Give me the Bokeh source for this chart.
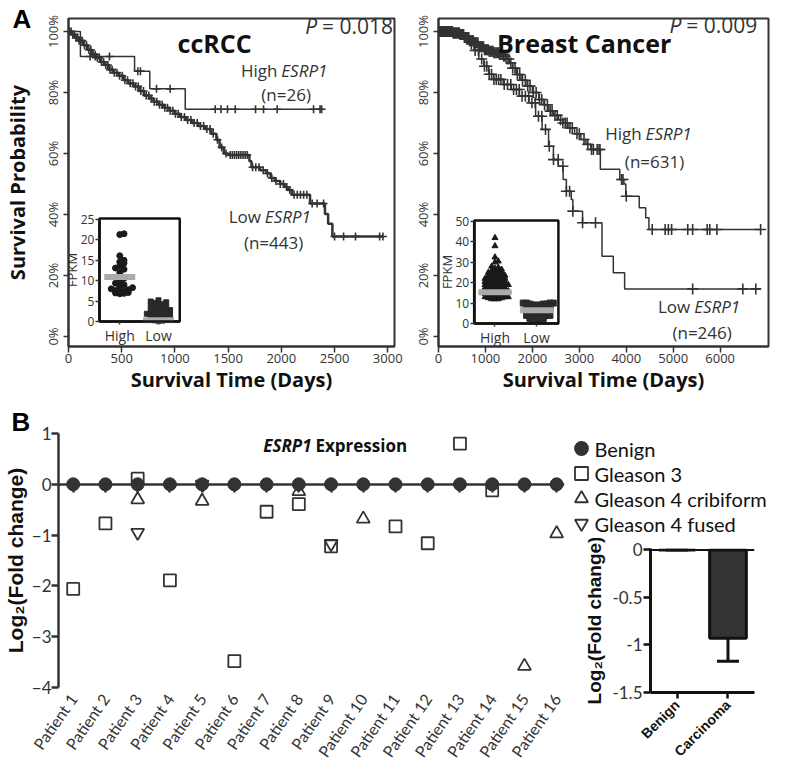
import numpy as np
from bokeh.plotting import figure
from bokeh.models import (Range1d, FactorRange, LinearAxis, FixedTicker, Label,
                          Whisker, TeeHead, ColumnDataSource, Span, NumeralTickFormatter)
from bokeh.core.properties import value
from bokeh.layouts import row, column
from bokeh.embed import file_html
from bokeh.resources import INLINE

# ======================= DATA =======================
# --- ccRCC Kaplan-Meier (days, survival fraction) ---
ccrcc_high_times = [0, 112, 621, 764, 1097]
ccrcc_high_surv = [1.0, 0.918, 0.870, 0.812, 0.745]
ccrcc_high_end = 2379
ccrcc_high_censor = [203, 251, 385, 651, 676, 827, 955, 1379, 1433, 1494, 1567, 1758, 1833,
                     1961, 2303, 2364, 2379]

ccrcc_low_times = [0, 30, 60, 100, 140, 180, 220, 260, 300, 340, 380, 420, 470, 520, 560, 610,
                   660, 710, 760, 800, 850, 900, 950, 1000, 1050, 1100, 1160, 1220, 1280, 1340,
                   1390, 1420, 1460, 1500, 1700, 1720, 1800, 1860, 1900, 1940, 1990, 2030, 2060,
                   2100, 2270, 2410, 2440, 2480]
ccrcc_low_surv = [1.0, 0.99, 0.98, 0.97, 0.955, 0.94, 0.925, 0.915, 0.90, 0.89, 0.875, 0.865,
                  0.855, 0.84, 0.83, 0.82, 0.805, 0.79, 0.78, 0.77, 0.76, 0.75, 0.74, 0.73, 0.72,
                  0.71, 0.70, 0.69, 0.68, 0.665, 0.645, 0.62, 0.60, 0.595, 0.575, 0.555, 0.545,
                  0.535, 0.52, 0.51, 0.50, 0.49, 0.48, 0.465, 0.436, 0.402, 0.37, 0.328]
ccrcc_low_end = 2955
ccrcc_low_censor = [10, 25, 40, 55, 70, 85, 100, 115, 130, 150, 170, 190, 210, 230, 250, 270, 290,
                    310, 330, 350, 370, 390, 410, 430, 455, 480, 505, 530, 555, 580, 605, 630, 655,
                    680, 705, 730, 755, 780, 805, 830, 855, 880, 905, 930, 955, 980, 1005, 1030,
                    1060, 1090, 1120, 1150, 1180, 1210, 1240, 1270, 1300, 1330, 1360, 1400, 1440,
                    1480, 1520, 1540, 1560, 1580, 1600, 1620, 1640, 1660, 1680, 1730, 1760, 1790,
                    1830, 1870, 1910, 1950, 1990, 2020, 2050, 2080, 2120, 2150, 2180, 2210, 2240,
                    2290, 2336, 2397, 2500, 2585, 2697, 2924, 2955]

# --- Breast cancer Kaplan-Meier ---
breast_high_times = [0, 300, 450, 550, 650, 760, 860, 966, 1070, 1172, 1280, 1379, 1450, 1517,
                     1580, 1655, 1760, 1862, 2000, 2138, 2245, 2345, 2450, 2552, 2650, 2759, 2900,
                     3034, 3140, 3241, 3448, 3862, 3950, 3990, 4276, 4414, 4483]
breast_high_surv = [1.0, 0.995, 0.99, 0.98, 0.97, 0.963, 0.95, 0.94, 0.935, 0.93, 0.925, 0.919,
                    0.91, 0.897, 0.88, 0.859, 0.84, 0.821, 0.80, 0.777, 0.76, 0.739, 0.725, 0.711,
                    0.70, 0.684, 0.665, 0.646, 0.63, 0.613, 0.548, 0.515, 0.50, 0.46, 0.422,
                    0.389, 0.351]
breast_high_end = 6862
breast_high_censor = [10, 25, 35, 50, 60, 75, 85, 100, 110, 125, 140, 150, 165, 180, 195, 205, 220,
                      235, 250, 265, 280, 295, 310, 325, 340, 355, 370, 385, 400, 415, 430, 445,
                      460, 475, 490, 505, 520, 535, 550, 565, 580, 600, 615, 630, 645, 660, 680,
                      700, 720, 740, 760, 780, 800, 820, 840, 860, 880, 900, 920, 940, 960, 980,
                      1000, 1020, 1040, 1060, 1080, 1100, 1120, 1140, 1160, 1180, 1200, 1225, 1250,
                      1275, 1300, 1330, 1360, 1390, 1420, 1460, 1500, 1540, 1580, 1630, 1680, 1730,
                      1790, 1850, 1900, 1950, 2020, 2080, 2150, 2200, 2260, 2320, 2380, 2420, 2480,
                      2530, 2600, 2650, 2700, 2740, 2800, 2850, 2950, 3000, 3100, 3180, 3260, 3300,
                      3380, 3420, 3440, 3900, 3930, 4000, 4552, 4828, 4897, 4966, 5310, 5414, 5724,
                      5779, 5931, 6862]

breast_low_times = [0, 400, 550, 650, 759, 860, 966, 1070, 1172, 1379, 1550, 1724, 1931, 2069,
                    2207, 2345, 2448, 2552, 2655, 2724, 2828, 2862, 3069, 3483, 3724, 3965]
breast_low_surv = [1.0, 0.99, 0.975, 0.96, 0.938, 0.91, 0.886, 0.86, 0.843, 0.826, 0.81, 0.788,
                   0.766, 0.722, 0.679, 0.624, 0.58, 0.558, 0.515, 0.476, 0.449, 0.411, 0.373,
                   0.263, 0.209, 0.156]
breast_low_end = 6862
breast_low_censor = [620, 700, 780, 850, 920, 980, 1030, 1080, 1130, 1180, 1230, 1280, 1330, 1400,
                     1470, 1540, 1600, 1660, 1720, 1780, 1850, 1920, 1990, 2060, 2130, 2200, 2280,
                     2360, 2450, 2550, 2650, 2724, 2793, 2862, 3069, 3345, 5414, 6483, 6759]

# --- insets: FPKM by group ---
inset_groups = ["High", "Low"]
ccrcc_fpkm_high = [21.3, 21.5, 16.1, 15.0, 14.6, 14.3, 13.6, 13.1, 12.8, 12.0, 11.2, 10.6, 10.0,
                   9.4, 9.0, 8.6, 8.3, 8.0, 7.8, 7.6, 7.4, 7.2, 7.1, 7.0, 6.9, 6.8]
ccrcc_fpkm_low = [5.2, 4.9, 4.7, 4.5, 4.2, 4.0, 3.8, 3.6, 3.4, 3.2, 3.0, 2.8, 2.7, 2.5, 2.3, 2.2,
                  2.0, 1.9, 1.7, 1.5, 1.4, 1.2, 1.1, 1.0, 0.8, 0.6, 0.5, 0.3, 0.2, 0.1]
ccrcc_fpkm_means = [10.9, 0.3]
breast_fpkm_high = [42, 38, 32.5, 30.5, 30, 28, 27.5, 27, 26.5, 26, 26, 25.5, 25, 25, 24.5, 24, 24,
                    23.5, 23.5, 23, 23, 22.5, 22.5, 22, 22, 21.5, 21.5, 21, 21, 21, 20.5, 20.5,
                    20, 20, 20, 19.5, 19.5, 19, 19, 19, 18.5, 18.5, 18, 18, 18, 17.5, 17.5, 17,
                    17, 17, 16.5, 16.5, 16, 16, 16, 15.5, 15.5, 15, 15, 15, 14.5, 14.5, 14, 14,
                    14, 13.5, 13.5, 13, 13, 13, 12.5, 12.5, 12, 12, 12]
breast_fpkm_low = [10, 10, 10, 10, 9.5, 9.5, 9.5, 9, 9, 9, 8.5, 8.5, 8.5, 8, 8, 8, 7.5, 7.5, 7, 7,
                   7, 6.5, 6.5, 6, 6, 6, 5.5, 5.5, 5, 5, 5, 4.5, 4.5, 4, 4, 4, 3.5, 3.5, 3, 3, 3,
                   2.5, 2.5, 2, 2, 2]
breast_fpkm_means = [15.3, 6.5]

# --- Panel B: ESRP1 log2 fold change per patient ---
patients = ["Patient %d" % i for i in range(1, 17)]
benign = [0.0] * 16
gleason3 = [-2.06, -0.77, 0.11, -1.89, np.nan, -3.48, -0.54, -0.39, -1.22, np.nan, -0.83, -1.16,
            0.80, -0.12, np.nan, np.nan]
gleason4_crib = [np.nan, np.nan, -0.30, np.nan, -0.33, np.nan, np.nan, -0.14, np.nan, -0.68,
                 np.nan, np.nan, np.nan, np.nan, -3.58, -0.97]
gleason4_fused = [np.nan, np.nan, -0.95, np.nan, 0.0, np.nan, np.nan, np.nan, -1.17, np.nan,
                  np.nan, np.nan, np.nan, np.nan, np.nan, np.nan]
series_names = ["Benign", "Gleason 3", "Gleason 4 cribiform", "Gleason 4 fused"]

# --- Panel B bar chart ---
bar_cats = ["Benign", "Carcinoma"]
bar_means = [0.0, -0.93]
bar_err = [0.0, 0.24]

# ======================= STYLE / HELPERS =======================
FONT = "Open Sans"
FONT_B = "Lato"
FONT_AR = "Liberation Sans"
DARK = "#333333"


def rng(v0, p0, v1, p1, f0, f1):
    k = (v1 - v0) / (p1 - p0)
    return Range1d(v0 + (f0 - p0) * k, v0 + (f1 - p0) * k)


def mapper(r, f0, f1):
    return lambda pg: r.start + (pg - f0) / (f1 - f0) * (r.end - r.start)


def surv_at(times, surv, t):
    i = np.searchsorted(np.asarray(times), np.asarray(t), side="right") - 1
    return list(np.asarray(surv)[i])


def swarm(vals, center, bin_w, step):
    vals = np.asarray(vals, float)
    order = np.argsort(vals)
    xs = np.zeros(len(vals))
    counts = {}
    for i in order:
        b = int(np.floor(vals[i] / bin_w))
        n = counts.get(b, 0)
        counts[b] = n + 1
        off = ((n + 1) // 2) * step * (1 if n % 2 else -1)
        xs[i] = center + off
    return list(xs)


def label(p, x, y, text, size, style="normal", align="left", font=FONT, color=DARK):
    p.add_layout(Label(x=x, y=y, text=text, text_font=font, text_font_size=f"{size}px",
                       text_font_style=style, text_align=align, text_baseline="middle",
                       text_color=color))


def letter(p, text, offset, standoff):
    # panel letter as the plot title, pulled left of / down beside the frame
    p.title.text = text
    p.title.align = "left"
    p.title.vertical_align = "bottom"
    p.title.offset = offset
    p.title.standoff = standoff
    p.title.text_font = FONT_AR
    p.title.text_font_style = "bold"
    p.title.text_font_size = "26px"
    p.title.text_color = "#000000"


def style_axis(ax, size=13, font=FONT):
    ax.axis_line_color = DARK
    ax.axis_line_width = 2
    ax.major_tick_line_color = DARK
    ax.major_tick_line_width = 1.5
    ax.minor_tick_line_color = None
    ax.major_label_text_font = font
    ax.major_label_text_font_size = f"{size}px"
    ax.major_label_text_color = DARK


# ======================= PANEL A =======================
H1 = 398
A_TOP, A_BOT = 18, 346
Y_A = rng(0, 336, 1, 31, A_BOT, A_TOP)


def km_fig(width, xr, mbl, mbr, xticks, ytitle):
    p = figure(width=width, height=H1, x_range=xr, y_range=Range1d(Y_A.start, Y_A.end),
               output_backend="svg", toolbar_location=None, frame_align=False,
               min_border_left=mbl, min_border_right=mbr, min_border_top=A_TOP,
               min_border_bottom=H1 - A_BOT)
    p.grid.visible = False
    p.outline_line_color = DARK
    p.outline_line_width = 2
    p.background_fill_color = "white"
    xa = p.xaxis[0]
    style_axis(xa)
    xa.ticker = FixedTicker(ticks=xticks)
    xa.major_tick_out = 6
    xa.major_tick_in = 0
    xa.major_label_standoff = 1
    xa.axis_label = "Survival Time (Days)"
    xa.axis_label_text_font = FONT
    xa.axis_label_text_font_style = "bold"
    xa.axis_label_text_font_size = "20px"
    xa.axis_label_text_color = "#111111"
    xa.axis_label_standoff = 0
    ya = p.yaxis[0]
    style_axis(ya)
    ya.ticker = FixedTicker(ticks=[0, 0.2, 0.4, 0.6, 0.8, 1.0])
    ya.formatter = NumeralTickFormatter(format="0%")
    ya.major_label_orientation = "vertical"
    ya.major_tick_out = 5
    ya.major_tick_in = 0
    ya.major_label_standoff = 2
    if ytitle:
        ya.axis_label = ytitle
        ya.axis_label_text_font = FONT
        ya.axis_label_text_font_style = "bold"
        ya.axis_label_text_font_size = "20px"
        ya.axis_label_text_color = "#111111"
        ya.axis_label_standoff = 10
    return p


def km_curve(p, times, surv, end, censor, lw, csize, color=DARK):
    p.step(x=list(times) + [end], y=list(surv) + [surv[-1]], mode="after",
           line_color=color, line_width=lw)
    p.scatter(x=censor, y=surv_at(times, surv, censor), marker="cross", size=csize,
              line_color=color, line_width=1.6)


def inset(p, frame, xmap, ymap, box, yticks, hi, lo, means, hi_marker, lo_marker,
          hi_size, lo_size, bins, step_hi, step_lo):
    fl, fr, ft, fb = frame
    p.extra_x_ranges = {"ix": rng(1, xmap[0], 2, xmap[1], fl, fr)}
    p.extra_y_ranges = {"iy": rng(0, ymap[0], yticks[-1], ymap[1], fb, ft)}
    fx = mapper(p.extra_x_ranges["ix"], fl, fr)
    fy = mapper(p.extra_y_ranges["iy"], fb, ft)
    bl, br, bt = fx(box[0]), fx(box[1]), fy(box[2])
    p.quad(left=[bl], right=[br], bottom=[0], top=[bt], x_range_name="ix", y_range_name="iy",
           fill_color="white", line_color="#111111", line_width=2.5)
    p.scatter(x=swarm(hi, 1, bins[0], step_hi), y=hi, marker=hi_marker, size=hi_size,
              fill_color="#1a1a1a", line_color="#1a1a1a", x_range_name="ix", y_range_name="iy")
    p.scatter(x=swarm(lo, 2, bins[1], step_lo), y=lo, marker=lo_marker, size=lo_size,
              fill_color="#2a2a2a", line_color="#2a2a2a", x_range_name="ix", y_range_name="iy")
    p.rect(x=[1, 2], y=means, width=0.8, height=6, height_units="screen",
           fill_color="#ababab", line_color=None, x_range_name="ix", y_range_name="iy")
    ay = LinearAxis(x_range_name="ix", y_range_name="iy", fixed_location=bl,
                    bounds=(0, bt), ticker=FixedTicker(ticks=yticks), axis_label="FPKM")
    style_axis(ay, size=12)
    ay.axis_line_color = "#111111"
    ay.axis_line_width = 2.5
    ay.major_tick_out = 4
    ay.major_tick_in = 0
    ay.major_label_standoff = 1
    ay.axis_label_text_font = FONT
    ay.axis_label_text_font_size = "13px"
    ay.axis_label_text_font_style = "normal"
    ay.axis_label_text_color = DARK
    ay.axis_label_standoff = -3
    p.add_layout(ay, "left")
    ax = LinearAxis(x_range_name="ix", y_range_name="iy", fixed_location=0,
                    bounds=(bl, br), ticker=FixedTicker(ticks=[1, 2]),
                    major_label_overrides={1: inset_groups[0], 2: inset_groups[1]})
    style_axis(ax, size=14)
    ax.axis_line_color = "#111111"
    ax.axis_line_width = 2.5
    ax.major_tick_out = 3
    ax.major_tick_in = 0
    ax.major_label_standoff = 1
    p.add_layout(ax, "below")


# ---- A1: ccRCC ----
fA1 = (65, 402, A_TOP, A_BOT)  # frame left, right, top, bottom (page px)
xA1 = rng(0, 65, 3000, 395, 65, 402)
pA1 = km_fig(410, xA1, 57, 16, [0, 500, 1000, 1500, 2000, 2500, 3000], "Survival Probability")
km_curve(pA1, ccrcc_low_times, ccrcc_low_surv, ccrcc_low_end, ccrcc_low_censor, 2.5, 8)
km_curve(pA1, ccrcc_high_times, ccrcc_high_surv, ccrcc_high_end, ccrcc_high_censor, 1.5, 8)
inset(pA1, fA1, (118, 158), (321, 219), (97, 180, 218), [0, 5, 10, 15, 20, 25],
      ccrcc_fpkm_high, ccrcc_fpkm_low, ccrcc_fpkm_means, "circle", "square", 6, 5,
      (1.2, 1.0), 0.11, 0.1)
gx = mapper(pA1.x_range, 65, 402)
gy = mapper(pA1.y_range, A_BOT, A_TOP)
label(pA1, gx(216), gy(42), "ccRCC", 25, "bold", "center", color="#111111")
label(pA1, gx(322), gy(25), "P", 21, "italic", "right")
label(pA1, gx(327), gy(25), "= 0.018", 21, "normal", "left")
label(pA1, gx(281), gy(70), "High", 17, "normal", "right")
label(pA1, gx(285), gy(70), "ESRP1", 17, "italic", "left")
label(pA1, gx(290), gy(94), "(n=26)", 17, "normal", "center")
label(pA1, gx(264), gy(216), "Low", 17, "normal", "right")
label(pA1, gx(268), gy(216), "ESRP1", 17, "italic", "left")
label(pA1, gx(277), gy(242), "(n=443)", 17, "normal", "center")
letter(pA1, "A", -56, -30)

# ---- A2: Breast cancer ----
fA2 = (443, 776, A_TOP, A_BOT)
xA2 = Range1d(0, 7030)
pA2 = km_fig(360, xA2, 25, 2, [0, 1000, 2000, 3000, 4000, 5000, 6000], None)
km_curve(pA2, breast_low_times, breast_low_surv, breast_low_end, breast_low_censor, 1.5, 11)
km_curve(pA2, breast_high_times, breast_high_surv, breast_high_end, breast_high_censor, 1.5, 11)
inset(pA2, fA2, (500, 542), (323, 221), (479, 564, 220), [0, 10, 20, 30, 40, 50],
      breast_fpkm_high, breast_fpkm_low, breast_fpkm_means, "triangle", "square", 6, 6,
      (1.5, 1.5), 0.08, 0.08)
hx = mapper(pA2.x_range, 443, 776)
hy = mapper(pA2.y_range, A_BOT, A_TOP)
label(pA2, hx(590), hy(42), "Breast Cancer", 25, "bold", "center", color="#111111")
label(pA2, hx(688), hy(24), "P", 21, "italic", "right")
label(pA2, hx(693), hy(24), "= 0.009", 21, "normal", "left")
label(pA2, hx(648), hy(133), "High", 17, "normal", "right")
label(pA2, hx(652), hy(133), "ESRP1", 17, "italic", "left")
label(pA2, hx(661), hy(161), "(n=631)", 17, "normal", "center")
label(pA2, hx(697), hy(306), "Low", 17, "normal", "right")
label(pA2, hx(701), hy(306), "ESRP1", 17, "italic", "left")
label(pA2, hx(709), hy(332), "(n=246)", 17, "normal", "center")

# ======================= PANEL B =======================
ROW2 = H1
H2 = 768 - ROW2
fB = (56, 572, 433, ROW2 + H2 - 74)
xB = rng(1, 71, 16, 564, fB[0], fB[1])
pB = figure(width=566, height=H2, x_range=xB, y_range=Range1d(-4, 1), output_backend="svg",
            toolbar_location=None, frame_align=False, min_border_left=48, min_border_right=2,
            min_border_top=fB[2] - ROW2, min_border_bottom=74)
pB.grid.visible = False
pB.outline_line_color = None
idx = list(range(1, len(patients) + 1))
bx = pB.xaxis[0]
bx.ticker = FixedTicker(ticks=idx)
bx.major_label_overrides = {i: n for i, n in zip(idx, patients)}
bx.axis_line_color = None
bx.major_tick_line_color = None
bx.minor_tick_line_color = None
bx.major_label_orientation = 0.96
bx.major_label_standoff = 2
bx.major_label_text_font = FONT_B
bx.major_label_text_font_size = "16px"
bx.major_label_text_color = DARK
by = pB.yaxis[0]
style_axis(by, size=17, font=FONT_B)
by.ticker = FixedTicker(ticks=[-4, -3, -2, -1, 0, 1])
by.axis_line_width = 2.5
by.major_tick_line_width = 2.5
by.major_tick_out = 7
by.major_tick_in = 0
by.major_label_standoff = 0
by.axis_label = "Log₂(Fold change)"
by.axis_label_text_font = FONT_AR
by.axis_label_text_font_style = "bold"
by.axis_label_text_font_size = "21px"
by.axis_label_text_color = "#111111"
by.axis_label_standoff = 2

zero_ax = LinearAxis(fixed_location=0, ticker=FixedTicker(ticks=idx),
                     bounds=(xB.start, xB.end))
style_axis(zero_ax)
zero_ax.axis_line_width = 2.5
zero_ax.major_tick_line_width = 2.5
zero_ax.major_tick_out = 8
zero_ax.major_tick_in = 0
zero_ax.major_label_text_color = None
zero_ax.major_label_text_font_size = "1px"
pB.add_layout(zero_ax, "below")

pB.scatter(x=idx, y=benign, marker="circle", size=13, fill_color=DARK, line_color=DARK)
pB.scatter(x=idx, y=gleason3, marker="square", size=12, fill_color=None, line_color=DARK,
           line_width=1.8)
pB.scatter(x=idx, y=gleason4_crib, marker="triangle", size=13, fill_color=None, line_color=DARK,
           line_width=1.8)
pB.scatter(x=idx, y=gleason4_fused, marker="inverted_triangle", size=13, fill_color=None,
           line_color=DARK, line_width=1.8)
bxm = mapper(pB.x_range, fB[0], fB[1])
bym = mapper(pB.y_range, fB[3], fB[2])
label(pB, bxm(314), bym(445), "ESRP1", 17, "bold italic", "right", color="#111111")
label(pB, bxm(318), bym(445), "Expression", 17, "bold", "left", color="#111111")
letter(pB, "B", -47, -6)

# ---- legend (right column, top) ----
LEG_W, LEG_H = 204, 140
pLeg = figure(width=LEG_W, height=LEG_H, x_range=Range1d(0, LEG_W), y_range=Range1d(0, LEG_H),
              output_backend="svg", toolbar_location=None, x_axis_type=None, y_axis_type=None,
              frame_align=False, min_border=0)
pLeg.grid.visible = False
pLeg.outline_line_color = None
row_y = [LEG_H - (448 - ROW2) - 25 * i for i in range(len(series_names))]
leg_markers = ["circle", "square", "triangle", "inverted_triangle"]
leg_fill = [DARK, None, None, None]
for yv, mk, fc in zip(row_y, leg_markers, leg_fill):
    pLeg.scatter(x=[15], y=[yv], marker=mk, size=13, fill_color=fc, line_color=DARK,
                 line_width=1.8)
pLeg.text(x=[28] * len(series_names), y=row_y, text=series_names, text_font=value(FONT_B),
          text_font_size="20px", text_baseline="middle", text_align="left",
          text_color="#111111")

# ---- bar chart (right column, bottom) ----
BAR_H = H2 - LEG_H
pBar = figure(width=204, height=BAR_H, x_range=FactorRange(factors=bar_cats, range_padding=0.02),
              y_range=Range1d(-1.5, 0.015), output_backend="svg", toolbar_location=None,
              frame_align=False, min_border_left=84, min_border_right=16,
              min_border_top=548 - (ROW2 + LEG_H), min_border_bottom=76)
pBar.grid.visible = False
pBar.outline_line_color = None
pBar.add_layout(Span(location=0, dimension="width", line_color="#111111", line_width=2))
pBar.vbar(x=bar_cats, top=bar_means, bottom=0, width=0.72, fill_color="#333333",
          line_color="#111111", line_width=3)
esrc = ColumnDataSource(dict(base=bar_cats,
                             upper=[m for m in bar_means],
                             lower=[m - e for m, e in zip(bar_means, bar_err)]))
pBar.add_layout(Whisker(base="base", upper="upper", lower="lower", source=esrc,
                        dimension="height", line_color="#111111", line_width=3,
                        upper_head=None,
                        lower_head=TeeHead(size=22, line_width=3, line_color="#111111")))
qx = pBar.xaxis[0]
style_axis(qx, size=14, font=FONT_AR)
qx.axis_line_color = "#111111"
qx.axis_line_width = 3
qx.major_tick_line_width = 2.5
qx.major_tick_line_color = "#111111"
qx.major_tick_out = 6
qx.major_tick_in = 0
qx.major_label_orientation = 0.785
qx.major_label_standoff = 4
qx.major_label_text_font_style = "bold"
qx.major_label_text_color = "#111111"
qy = pBar.yaxis[0]
style_axis(qy, size=17, font=FONT_B)
qy.ticker = FixedTicker(ticks=[-1.5, -1, -0.5, 0])
qy.formatter = NumeralTickFormatter(format="0.[0]")
qy.axis_line_color = "#111111"
qy.axis_line_width = 3
qy.major_tick_line_width = 2.5
qy.major_tick_line_color = "#111111"
qy.major_tick_out = 7
qy.major_tick_in = 0
qy.major_label_standoff = 1
qy.axis_label = "Log₂(Fold change)"
qy.axis_label_text_font = FONT_AR
qy.axis_label_text_font_style = "bold"
qy.axis_label_text_font_size = "19px"
qy.axis_label_text_color = "#111111"
qy.axis_label_standoff = 4

layout = column(row(pA1, pA2), row(pB, column(pLeg, pBar)))
open("out.html", "w").write(file_html(layout, INLINE))
